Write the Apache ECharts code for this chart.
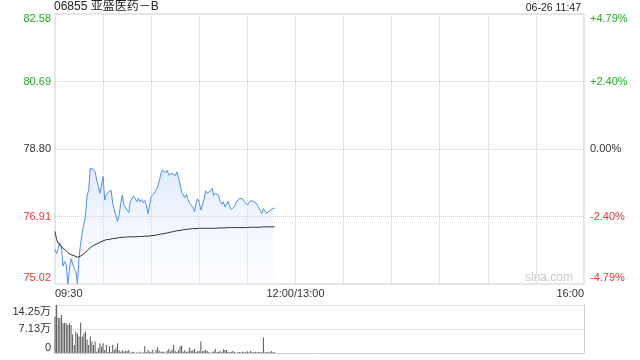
<!DOCTYPE html>
<html><head><meta charset="utf-8">
<script src="https://cdn.jsdelivr.net/npm/echarts@6/dist/echarts.min.js"></script>
<style>html,body{margin:0;padding:0;background:#fff}#c{width:640px;height:360px}</style>
</head><body><div id="c"></div>
<script>
const titleText = '06855 亚盛医药－B';
const stampText = '06-26 11:47';
const priceLabels = ['75.02','76.91','78.80','80.69','82.58'];
const pctLabels = ['-4.79%','-2.40%','0.00%','+2.40%','+4.79%'];
const volLabels = ['0','7.13万','14.25万'];
const timeTickLabels = ['09:30','12:00/13:00','16:00'];
const priceMin = 75.02, priceMax = 82.58, volMax = 14.25;

const price = [
75.99,75.87,76.01,76.18,76.05,75.52,75.65,75.55,75.02,75.41,
75.73,75.69,75.45,75.37,75.02,75.77,76.16,76.46,76.49,76.95,
77.48,77.65,78.26,78.21,78.23,78.17,77.93,77.76,77.56,77.61,
78.03,77.37,77.51,77.58,77.61,77.65,77.28,77.28,76.92,76.77,
76.95,77.28,77.51,77.23,77.19,77.09,77.02,77.33,77.37,77.48,
77.47,77.33,77.42,77.33,77.39,77.30,77.36,77.23,76.99,77.00,
77.47,77.51,77.56,77.60,77.73,77.89,78.10,78.21,78.19,78.14,
78.20,78.07,78.07,78.12,78.17,78.05,78.16,78.01,77.82,77.59,
77.64,77.44,77.53,77.39,77.28,77.27,77.17,77.05,77.28,77.41,
77.30,77.09,77.07,77.39,77.63,77.56,77.52,77.63,77.70,77.50,
77.56,77.52,77.51,77.34,77.25,77.32,77.18,77.16,77.33,77.19,
77.11,77.11,77.19,77.31,77.36,77.42,77.38,77.40,77.34,77.30,
77.23,77.25,77.35,77.36,77.33,77.28,77.26,77.16,77.14,77.00,
77.13,77.07,77.00,77.02,77.08,77.13,77.14,77.14
];
const avgPrice = [
76.49,76.27,76.16,76.11,76.06,76.03,75.99,75.95,75.90,75.87,
75.84,75.82,75.81,75.80,75.77,75.76,75.80,75.83,75.87,75.91,
75.95,75.99,76.04,76.08,76.10,76.11,76.14,76.16,76.19,76.22,
76.23,76.25,76.26,76.27,76.27,76.28,76.29,76.30,76.30,76.31,
76.32,76.33,76.33,76.33,76.33,76.33,76.34,76.34,76.34,76.34,
76.34,76.35,76.35,76.35,76.35,76.35,76.36,76.36,76.36,76.37,
76.37,76.37,76.38,76.38,76.40,76.40,76.42,76.43,76.43,76.44,
76.45,76.46,76.47,76.48,76.49,76.50,76.51,76.52,76.52,76.53,
76.54,76.54,76.55,76.55,76.56,76.56,76.57,76.57,76.57,76.58,
76.58,76.58,76.58,76.58,76.58,76.58,76.58,76.58,76.58,76.58,
76.58,76.59,76.59,76.59,76.59,76.59,76.59,76.60,76.60,76.60,
76.60,76.60,76.60,76.60,76.60,76.60,76.60,76.60,76.60,76.60,
76.60,76.61,76.61,76.61,76.61,76.61,76.61,76.61,76.61,76.62,
76.62,76.62,76.62,76.62,76.62,76.62,76.62,76.62
];
const volume = [
10.8,14.25,10.5,10.3,11.3,8.8,9.0,8.8,8.3,8.8,
8.3,5.5,2.4,6.3,5.8,4.9,9.0,4.9,5.8,6.3,
4.0,2.4,4.9,3.4,2.4,3.4,0.4,1.4,2.9,1.9,
2.9,0.9,2.4,0.4,2.0,0.3,2.4,0.9,1.4,2.9,
0.8,0.4,0.9,0.4,0.7,0.6,0.9,0.1,0.4,0.3,
0.1,0.2,0.1,0.4,0.1,0.2,2.1,0.2,0.9,0.4,
0.4,1.0,0.1,0.9,1.7,0.7,0.4,0.4,0.4,0.1,
0.7,1.2,0.5,1.0,2.4,0.6,0.3,0.8,1.9,2.2,
0.4,0.9,0.3,0.5,1.6,0.7,0.8,1.2,0.4,0.5,
0.6,3.4,0.5,0.7,1.0,0.6,0.3,0.1,0.2,0.5,
1.2,0.3,0.4,0.7,0.2,1.1,0.9,0.9,0.3,0.2,
0.4,0.6,0.3,0.1,0.2,0.3,0.2,0.4,0.2,0.3,
0.5,0.2,0.6,0.3,0.2,0.4,0.2,0.3,0.3,0.2,
4.6,0.2,0.3,0.4,0.2,0.6,0.3,0.2
];

const pad = n => (n < 10 ? '0' : '') + n;
const times = [];
for (let i = 0; i <= 330; i++) {
  const t = i <= 150 ? 570 + i : 780 + (i - 150);
  times.push(pad(Math.floor(t / 60)) + ':' + pad(t % 60));
}
const tickIndex = {0: 0, 150: 1, 330: 2};

const FONT = 'Arial, "Liberation Sans", "Noto Sans CJK SC", sans-serif';
const GREEN = '#1fae1f', RED = '#f03232', DARK = '#333';
const GRID = '#cccccc';
const t = (c, p) => ({color: c, fontSize: 11, fontFamily: FONT, padding: p || [0,0,0,0]});
const richMain = {
  r: t(RED), rB: t(RED, [0,0,13,0]), k: t(DARK), g: t(GREEN), gT: t(GREEN, [10,0,0,0])
};
const colorKey = ['r','r','k','g','g'];
const mainFmt = labels => v => {
  const i = Math.round(v);
  const c = colorKey[i];
  const p = i === 0 ? 'B' : (i === 4 ? 'T' : '');
  return '{' + c + p + '|' + labels[i] + '}';
};

const chart = echarts.init(document.getElementById('c'), null, {renderer: 'canvas'});
chart.setOption({
  animation: false,
  backgroundColor: '#fff',
  textStyle: {fontFamily: FONT},
  title: [
    {text: titleText, left: 54, top: 1, padding: 0,
     textStyle: {fontSize: 12, fontWeight: 'normal', color: '#222', fontFamily: FONT}},
    {text: stampText, right: 59, top: 3, padding: 0,
     textStyle: {fontSize: 10.5, fontWeight: 'normal', color: '#222', fontFamily: FONT}}
  ],
  graphic: [{
    type: 'text', right: 67, top: 272, silent: true,
    style: {text: 'sina.com', fill: '#c9c9c9', font: '12px ' + FONT}
  }],
  grid: [
    {left: 55, right: 56, top: 14, height: 270, show: true, borderColor: GRID, borderWidth: 1, backgroundColor: 'transparent'},
    {left: 55, right: 56, top: 305, height: 48}
  ],
  xAxis: [
    {gridIndex: 0, type: 'category', data: times, boundaryGap: false,
     axisLine: {show: false}, axisTick: {show: false},
     splitLine: {show: true, interval: (i) => i % 30 === 0 && i > 0 && i < 330,
                 lineStyle: {type: 'dotted', color: GRID, width: 1}},
     axisLabel: {interval: (i) => i in tickIndex, formatter: (v, i) => timeTickLabels[tickIndex[i]],
                 color: DARK, fontSize: 11, fontFamily: FONT, margin: 4,
                 alignMinLabel: 'left', alignMaxLabel: 'right', showMinLabel: true, showMaxLabel: true}},
    {gridIndex: 1, type: 'category', data: times, boundaryGap: false,
     axisLine: {show: true, lineStyle: {color: GRID}}, axisTick: {show: false},
     axisLabel: {show: false}, splitLine: {show: false}}
  ],
  yAxis: [
    {gridIndex: 0, type: 'value', position: 'left', min: 0, max: 4, interval: 1,
     axisLine: {show: false}, axisTick: {show: false},
     splitLine: {show: true, showMinLine: false, showMaxLine: false, lineStyle: {type: 'dotted', color: GRID}},
     axisLabel: {formatter: mainFmt(priceLabels), rich: richMain, margin: 4, fontSize: 11}},
    {gridIndex: 0, type: 'value', position: 'right', min: 0, max: 4, interval: 1,
     axisLine: {show: false}, axisTick: {show: false}, splitLine: {show: false},
     axisLabel: {formatter: mainFmt(pctLabels), rich: richMain, margin: 6, fontSize: 11}},
    {gridIndex: 0, type: 'value', min: priceMin, max: priceMax, show: false, splitLine: {show: false}},
    {gridIndex: 1, type: 'value', position: 'left', min: 0, max: 2, interval: 1,
     axisLine: {show: true, lineStyle: {color: GRID}}, axisTick: {show: false},
     splitLine: {show: true, showMinLine: false, lineStyle: {type: 'dotted', color: GRID}},
     axisLabel: {margin: 4, fontSize: 11,
       formatter: v => { const i = Math.round(v); return '{' + (i === 0 ? 'kB' : (i === 2 ? 'kT' : 'k')) + '|' + volLabels[i] + '}'; },
       rich: {k: t(DARK), kB: t(DARK, [0,0,10,0]), kT: t(DARK, [14,0,0,0])}}},
    {gridIndex: 1, type: 'value', position: 'right', min: 0, max: volMax,
     axisLine: {show: true, lineStyle: {color: GRID}}, axisTick: {show: false},
     axisLabel: {show: false}, splitLine: {show: false}}
  ],
  series: [
    {type: 'line', xAxisIndex: 0, yAxisIndex: 2, data: price, symbol: 'none',
     lineStyle: {color: '#4f8ef5', width: 1}, z: 3,
     areaStyle: {origin: 'start', color: new echarts.graphic.LinearGradient(0, 0, 0, 1, [
       {offset: 0, color: 'rgba(200,218,248,0.75)'},
       {offset: 1, color: 'rgba(240,245,253,0.35)'}
     ])}},
    {type: 'line', xAxisIndex: 0, yAxisIndex: 2, data: avgPrice, symbol: 'none',
     lineStyle: {color: '#333', width: 1}, z: 4},
    {type: 'bar', xAxisIndex: 1, yAxisIndex: 4, data: volume, barWidth: 1,
     itemStyle: {color: '#555'}}
  ]
});
</script></body></html>
